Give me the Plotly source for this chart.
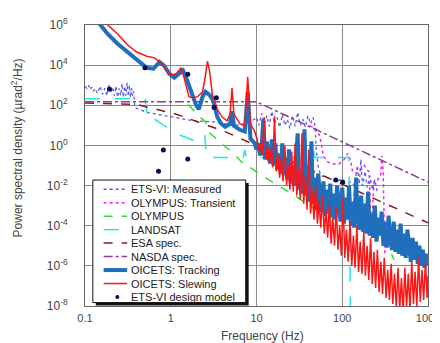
import plotly.graph_objects as go

# ---------------- data ----------------
ets_freq = [0.10, 0.105, 0.11, 0.115, 0.12, 0.125, 0.13, 0.14, 0.15, 0.16,
            0.17, 0.18, 0.19, 0.20, 0.21, 0.22, 0.23, 0.24, 0.25, 0.26,
            0.27, 0.28, 0.29, 0.30, 0.31, 0.32, 0.33, 0.34, 0.35, 0.36,
            0.37, 0.38, 0.52, 1.07, 1.81, 3.06, 4.3, 5.2, 7.3, 9.5,
            10, 10.7, 11.5, 12.3, 13.2, 14.1, 15.1, 16.2, 17.4, 18.6,
            20, 21.4, 22.9, 24.5, 26.3, 28.2, 30.2, 32.4, 34.7, 37.2,
            39.8, 42.7, 45.7,
            48, 50, 53, 58, 65, 75, 85, 95, 110, 125, 140, 150, 158, 165,
            172, 185, 195, 210, 225, 240, 255]
ets_psd = [900, 700, 1000, 600, 800, 500, 700, 400, 900, 350,
           700, 300, 1000, 400, 800, 300, 900, 250, 700, 300,
           1200, 250, 900, 300, 1300, 280, 1000, 250, 700, 300,
           500, 78, 45, 26, 17, 15, 12, 9.5, 12, 20,
           25, 10, 40, 12, 30, 9, 50, 12, 25, 8,
           35, 10, 20, 7, 30, 9, 45, 10, 20, 8,
           30, 12, 25,
           10, 0.5, 0.06, 0.03, 0.025, 0.02, 0.015, 0.02, 0.012, 0.015, 0.01, 0.1, 0.012, 0.2,
           0.01, 0.05, 0.008, 0.03, 0.006, 0.02, 0.005]

olt_freq = [42, 48, 55, 60, 68, 78, 92, 105, 116, 124, 132, 145, 165, 181, 195,
            206, 217, 235, 260, 280, 290, 300, 314]
olt_psd = [9, 8, 2.8, 0.3, 0.15, 0.12, 0.12, 0.2, 0.4, 0.2, 0.05, 0.04, 0.06, 0.1, 0.06,
           0.05, 4e-5, 0.015, 0.02, 0.03, 0.3, 0.05, 3.5e-6]

oly_freq = [1.6, 1.81, 2.12, 2.55, 2.9, 4.0, 5.2, 6.7, 13.4, 27, 52, 65, 78, 91, 107,
            126, 143, 206, 290, 350, 400]
oly_psd = [110, 63, 29, 15, 3.9, 1.15, 0.47, 0.15, 0.021, 3.5e-3, 5.2e-4, 6e-3, 2.8e-3,
           5.2e-4, 3.2e-4, 4e-3, 2.8e-3, 3.8e-4, 1e-4, 8.7e-6, 2e-6]

landsat_freq = [0.1, 0.5, 0.53, 0.57, 0.6, 1.16, 2.2, 2.5, 2.6, 7.0, 7.3, 7.6, 44, 46, 48, 120, 125]
landsat_psd = [210, 210, 40, 60, 25, 3.9, 1.3, 3.2, 0.25, 0.25, 0.6, 0.25, 0.25, 0.6, 0.25, 0.25, 1e-9]

esa_freq = [0.1, 0.4, 1.16, 4.3, 10, 100, 1000]
esa_psd = [130, 110, 36, 4.9, 0.97, 0.0117, 1.4e-4]

nasda_freq = [0.1, 10, 1000]
nasda_psd = [150, 150, 0.015]

track_freq = [0.14, 0.183, 0.238, 0.31, 0.40, 0.525, 0.63, 0.74, 0.84, 0.96,
              1.1, 1.25, 1.39, 1.55, 1.76, 1.96, 2.12, 2.35, 2.54, 2.83,
              3.14, 3.49, 3.88, 4.31, 4.91, 5.18, 5.46, 6.4, 7.3, 7.9, 8.5, 9.5,
              10, 10.5, 11.0, 11.5, 12.0, 12.6, 13.2, 13.8, 14.5, 15.1,
              15.8, 16.6, 17.4, 18.2, 19.1, 20.0, 20.9, 21.9, 22.9, 24.0,
              25.1, 26.3, 27.5, 28.8, 30.2, 31.6, 33.1, 34.7, 36.3, 38.0,
              39.8, 41.7, 43.7, 45.7, 47.9, 50.1, 52.5, 55.0, 57.5, 60.3,
              63.1, 66.1, 69.2, 72.4, 75.9, 79.4, 83.2, 87.1, 91.2, 95.5,
              100, 105, 110, 115, 120, 126, 132, 138, 145, 151,
              158, 166, 174, 182, 191, 200, 209, 219, 229, 240,
              251, 263, 275, 288, 302, 316, 331, 347, 363, 380,
              398, 417, 437, 457, 479, 501, 525, 550, 575, 603,
              631, 661, 692, 724, 759, 794, 832, 871, 912, 955,
              1000]
track_psd = [1.5e6, 3.7e5, 1.2e5, 4.5e4, 1.8e4, 7.4e3, 6.7e3, 1.45e4, 9.3e3, 3.8e3,
             2.4e3, 3.8e3, 5.4e3, 1.8e3, 420, 110, 63, 270, 470, 330,
             170, 26, 12, 8.5, 12, 50, 9.5, 6.0, 4.9, 470, 2.2, 1.3,
             0.63, 1.26, 0.32, 1.0, 20, 0.2, 1.6, 0.25, 0.126, 2.0,
             0.1, 1.26, 0.063, 0.4, 0.04, 1.26, 0.032, 0.25, 0.02, 0.63,
             0.0126, 0.1, 0.01, 0.32, 4.0, 6.3e-3, 0.063, 4e-3, 6.3, 3.2e-3,
             0.1, 1.6e-3, 1.6, 1.26e-3, 0.025, 6.3e-4, 0.04, 2.5e-3, 5e-4, 0.016,
             3.2e-4, 6.3e-3, 4e-4, 0.0126, 2.5e-4, 4e-3, 2e-4, 0.01, 8e-4, 1.6e-4,
             8e-3, 1.26e-4, 2.5e-3, 2e-4, 0.01, 1e-4, 1.6e-3, 8e-5, 0.025, 3.2e-4,
             6.3e-5, 3.2e-3, 5e-5, 1.26e-3, 4e-5, 5e-3, 3.2e-5, 4e-4, 2.5e-5, 1e-3,
             1.6e-5, 2.5e-4, 3.2e-5, 5e-4, 1e-5, 1.6e-4, 8e-6, 3.2e-4, 2e-5, 6.3e-6,
             1.6e-4, 5e-6, 6.3e-5, 4e-6, 1.26e-4, 3.2e-6, 4e-5, 2.5e-6, 6.3e-5, 5e-6,
             1.6e-6, 2.5e-5, 2e-6, 1.6e-5, 1.26e-6, 1e-5, 1e-6, 6.3e-6, 8e-7, 4e-6,
             1e-6]

slew_freq = [0.18, 0.238, 0.31, 0.40, 0.525, 0.65, 0.78, 0.89, 1.01, 1.16,
             1.32, 1.43, 1.63, 1.81, 2.06, 2.35, 2.54, 2.68, 2.83, 3.06,
             3.49, 3.98, 4.54, 4.91, 5.18, 5.46, 6.4, 7.3, 7.9, 8.5, 9.5,
             10.2, 10.7, 11.2, 11.7, 12.3, 12.9, 13.5, 14.1, 14.8, 15.5,
             16.2, 17.0, 17.8, 18.6, 19.5, 20.4, 21.4, 22.4, 23.4, 24.5,
             25.7, 26.9, 28.2, 29.5, 30.9, 32.4, 33.9, 35.5, 37.2, 38.9,
             40.7, 42.7, 44.7, 46.8, 49.0, 51.3, 53.7, 56.2, 58.9, 61.7,
             64.6, 67.6, 70.8, 74.1, 77.6, 81.3, 85.1, 89.1, 93.3, 97.7,
             102, 107, 112, 117, 123, 129, 135, 141, 148, 155,
             162, 170, 178, 186, 195, 204, 214, 224, 234, 245,
             257, 269, 282, 295, 309, 324, 339, 355, 372, 389,
             407, 427, 447, 468, 490, 513, 537, 562, 589, 617,
             646, 676, 708, 741, 776, 813, 851, 891, 933, 977,
             1000]
slew_psd = [1.1e6, 3.7e5, 1.07e5, 4.5e4, 2.8e4, 2.3e4, 1.2e4, 5.4e3, 3.1e3, 3.8e3,
            7.4e3, 2.4e3, 270, 240, 270, 470, 3.1e3, 1.6e4, 5.4e3, 330,
            63, 26, 17, 36, 720, 36, 12, 9.5, 2.6e3, 12, 5.0,
            2.0, 0.5, 1.26, 0.32, 25, 0.2, 1.0, 0.126, 0.63, 0.079,
            28, 0.05, 0.32, 0.025, 0.25, 0.016, 1.0, 0.01, 0.1, 6.3e-3,
            0.5, 5e-3, 1.26, 3.2e-3, 0.063, 2e-3, 4.0, 1.26e-3, 0.032, 6.3e-4,
            0.63, 4e-4, 6.3e-3, 2e-4, 0.01, 1.26e-4, 1.6e-3, 8e-5, 3.2e-3, 4e-5,
            6.3e-4, 2.5e-5, 1.26e-3, 1.26e-5, 2.5e-4, 1e-5, 8e-4, 6.3e-6, 1e-4, 3.2e-6,
            2.5e-3, 2.5e-6, 6.3e-5, 1.6e-6, 1.6e-4, 1e-6, 3.2e-5, 8e-7, 1e-4, 5e-7,
            1.6e-5, 4e-7, 5e-5, 3.2e-7, 1e-5, 2e-7, 2.5e-5, 1.26e-7, 5e-6, 8e-8,
            6.3e-6, 5e-8, 1.6e-6, 4e-8, 2.5e-6, 2.5e-8, 6.3e-7, 2e-8, 1.26e-6, 1.26e-8,
            4e-7, 8e-9, 8e-7, 6.3e-9, 2.5e-7, 5e-9, 8e-7, 8e-9, 4e-7, 6.3e-9,
            1.6e-6, 1.26e-8, 5e-7, 1e-8, 2.5e-6, 1.6e-8, 6.3e-7, 2e-8, 1.6e-6, 2.5e-8,
            3.2e-7]

dm_freq = [0.193, 0.50, 1.58, 3.4, 3.2, 0.82, 1.58, 0.72, 84, 101]
dm_psd = [640, 7400, 3500, 240, 78, 0.59, 0.21, 0.051, 0.019, 0.015]

x_tick_vals = [0.1, 1, 10, 100, 1000]
x_tick_text = ["0.1", "1", "10", "100", "1000"]
y_tick_vals = [1e-8, 1e-6, 1e-4, 1e-2, 1e0, 1e2, 1e4, 1e6]
y_tick_text = ["10<sup>-8</sup>", "10<sup>-6</sup>", "10<sup>-4</sup>", "10<sup>-2</sup>",
               "10<sup>0</sup>", "10<sup>2</sup>", "10<sup>4</sup>", "10<sup>6</sup>"]

# ---------------- styles ----------------
series = [
    ("ETS-VI: Measured", ets_freq, ets_psd, "#5a5af0", 1.3, "dot"),
    ("OLYMPUS: Transient", olt_freq, olt_psd, "#ee22ee", 1.5, "dot"),
    ("OLYMPUS", oly_freq, oly_psd, "#33dd33", 1.5, "dash"),
    ("LANDSAT", landsat_freq, landsat_psd, "#22e5ee", 1.5, "longdash"),
    ("ESA spec.", esa_freq, esa_psd, "#8b1a1a", 1.5, "dash"),
    ("NASDA spec.", nasda_freq, nasda_psd, "#8a3c96", 1.5, "dashdot"),
    ("OICETS: Tracking", track_freq, track_psd, "#1f6fbd", 4, "solid"),
    ("OICETS: Slewing", slew_freq, slew_psd, "#ff1414", 1.5, "solid"),
]

fig = go.Figure()
for name, fx, fy, col, w, dash in series:
    fig.add_trace(go.Scatter(x=fx, y=fy, mode="lines", name=name,
                             line=dict(color=col, width=w, dash=dash)))
fig.add_trace(go.Scatter(x=dm_freq, y=dm_psd, mode="markers", name="ETS-VI design model",
                         marker=dict(color="#0a0a5a", size=5)))

L, R, T, B = 77, 427, 8, 298


def px(p):
    return (p - L) / (R - L)


def py(p):
    return (B - p) / (B - T)


shapes = []
annotations = []
# legend shadow + box
shapes.append(dict(type="rect", xref="paper", yref="paper", x0=px(88), x1=px(244),
                   y0=py(297.5), y1=py(171), fillcolor="#111", line=dict(width=0), layer="above"))
shapes.append(dict(type="rect", xref="paper", yref="paper", x0=px(85), x1=px(241),
                   y0=py(294.5), y1=py(168), fillcolor="white",
                   line=dict(color="#111", width=1), layer="above"))
row_y0 = 177.5
row_dy = 13.9
for i, (name, fx, fy, col, w, dash) in enumerate(series):
    yy = row_y0 + i * row_dy
    shapes.append(dict(type="line", xref="paper", yref="paper", x0=px(96), x1=px(120),
                       y0=py(yy), y1=py(yy), line=dict(color=col, width=w, dash=dash),
                       layer="above"))
    annotations.append(dict(xref="paper", yref="paper", x=px(122), y=py(yy), text=name,
                            showarrow=False, xanchor="left", yanchor="middle",
                            font=dict(size=11, color="#222")))
yy = row_y0 + 8 * row_dy
shapes.append(dict(type="circle", xref="paper", yref="paper", x0=px(108), x1=px(112),
                   y0=py(yy + 2), y1=py(yy - 2), fillcolor="#0a0a5a",
                   line=dict(color="#0a0a5a", width=0), layer="above"))
annotations.append(dict(xref="paper", yref="paper", x=px(122), y=py(yy), text="ETS-VI design model",
                        showarrow=False, xanchor="left", yanchor="middle",
                        font=dict(size=11, color="#222")))
# axis titles
annotations.append(dict(xref="paper", yref="paper", x=px(8), y=py(135),
                        text="Power spectral density (µrad<sup>2</sup>/Hz)", textangle=-90,
                        showarrow=False, xanchor="center", yanchor="middle",
                        font=dict(size=12, color="#444")))
annotations.append(dict(xref="paper", yref="paper", x=px(258), y=py(329),
                        text="Frequency (Hz)", showarrow=False, xanchor="center",
                        yanchor="middle", font=dict(size=12, color="#444")))

fig.update_layout(
    width=440, height=343,
    margin=dict(l=L, r=440 - R, t=T, b=343 - B),
    paper_bgcolor="white", plot_bgcolor="white",
    showlegend=False,
    font=dict(family="Liberation Sans, Arial, sans-serif", size=11, color="#444"),
    shapes=shapes, annotations=annotations,
)
fig.update_xaxes(type="log", range=[-1, 3], tickvals=x_tick_vals, ticktext=x_tick_text,
                 showgrid=True, gridcolor="#8a8a8a", gridwidth=1, showline=True,
                 linecolor="#666", linewidth=1, mirror=True, zeroline=False, ticks="",
                 tickfont=dict(size=11, color="#444"), ticklabelstandoff=2)
fig.update_yaxes(type="log", range=[-8, 6], tickvals=y_tick_vals, ticktext=y_tick_text,
                 showgrid=True, gridcolor="#8a8a8a", gridwidth=1, showline=True,
                 linecolor="#666", linewidth=1, mirror=True, zeroline=False, ticks="",
                 tickfont=dict(size=12, color="#444"), ticklabelstandoff=14)

fig.write_html("out.html")
